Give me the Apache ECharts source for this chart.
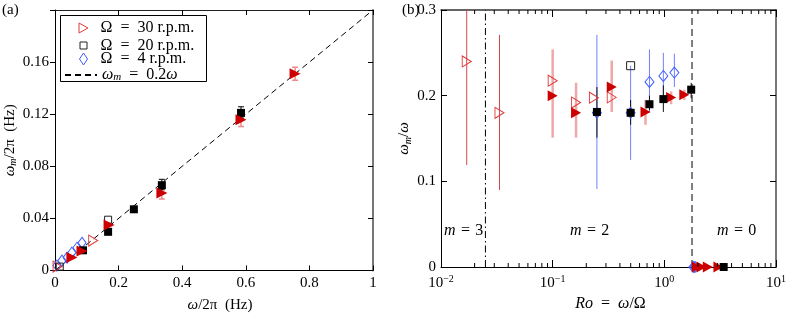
<!DOCTYPE html>
<html>
<head>
<meta charset="utf-8">
<script src="https://cdn.jsdelivr.net/npm/echarts@6/dist/echarts.min.js"></script>
<style>html,body{margin:0;padding:0;background:#fff}#c{width:789px;height:318px}</style>
</head>
<body>
<div id="c"></div>
<script>
// ---------- Panel (a) data : omega/2pi (Hz) vs omega_m/2pi (Hz) ----------
const aXTicks = [0, 0.2, 0.4, 0.6, 0.8, 1];
const aYTicks = [0, 0.04, 0.08, 0.12, 0.16];
const aYMax = 0.2;
const aRed30Open = [[0.008, 0.003], [0.12, 0.023]];
const aRed30Filled = [[0.053, 0.0099], [0.085, 0.015], [0.17, 0.035], [0.336, 0.0595], [0.585, 0.1158], [0.755, 0.151]];
const aRed30Err = [[0.336, 0.0549, 0.0632], [0.585, 0.1105, 0.1196], [0.755, 0.146, 0.156]];
const aBlack20Open = [[0.015, 0.003], [0.167, 0.039]];
const aBlack20Filled = [[0.088, 0.0155], [0.167, 0.0297], [0.248, 0.047], [0.336, 0.0655], [0.585, 0.121]];
const aBlack20Err = [[0.336, 0.062, 0.070], [0.585, 0.117, 0.1257]];
const aBlue4 = [[0.006, 0.0038], [0.022, 0.0076], [0.038, 0.0099], [0.053, 0.0137], [0.069, 0.0175], [0.085, 0.0213]];
const aFitLine = [[0, 0], [1, 0.2]];

// ---------- Panel (b) data : Ro = omega/Omega vs omega_m/omega ----------
const bXRange = [0.01, 10];
const bYTicks = [0, 0.1, 0.2, 0.3];
const bRed30Open = [[0.017, 0.24], [0.0334, 0.18], [0.1, 0.2175], [0.162, 0.192], [0.234, 0.1977], [0.338, 0.198]];
const bRed30OpenErr = [[0.017, 0.119, 0.36], [0.0334, 0.09, 0.271]];
const bRed30Filled = [[0.1, 0.2], [0.162, 0.18], [0.338, 0.21], [0.678, 0.181], [1.15, 0.198], [1.51, 0.201], [1.95, 0], [2.15, 0], [2.45, 0], [3.05, 0]];
const bRed30FilledErr = [[0.1, 0.151, 0.254], [0.162, 0.151, 0.215], [0.338, 0.181, 0.241], [0.678, 0.166, 0.195], [1.15, 0.19, 0.205], [1.51, 0.195, 0.207]];
const bBlack20Open = [[0.499, 0.235]];
const bBlack20Filled = [[0.249, 0.181], [0.499, 0.18], [0.736, 0.19], [0.98, 0.196], [1.74, 0.207], [3.4, 0]];
const bBlack20Err = [[0.249, 0.151, 0.21], [0.499, 0.166, 0.195], [0.736, 0.183, 0.2], [0.98, 0.181, 0.212], [1.74, 0.197, 0.215]];
const bBlue4 = [[0.249, 0.18], [0.499, 0.18], [0.736, 0.216], [0.98, 0.223], [1.23, 0.227], [1.82, 0], [1.88, 0]];
const bBlue4Err = [[0.249, 0.091, 0.271], [0.499, 0.125, 0.235], [0.736, 0.18, 0.254], [0.98, 0.195, 0.25], [1.23, 0.21, 0.249]];
const bRegimeBounds = [0.025, 1.77];
const bMinorTicks = [0.02, 0.03, 0.04, 0.05, 0.06, 0.07, 0.08, 0.09, 0.2, 0.3, 0.4, 0.5, 0.6, 0.7, 0.8, 0.9, 2, 3, 4, 5, 6, 7, 8, 9];
const bRegimeLabels = ['3', '2', '0'];
const legendNames = ['Ω = 30 r.p.m.', 'Ω = 20 r.p.m.', 'Ω = 4 r.p.m.', 'fit'];

// ---------- styling ----------
const FONT = 'Liberation Serif';
const EN = '\u2002', TH = '\u2004';
const RED = '#cc0000', RED_OPEN = '#e23b3b', BLUE = '#3d5cff', BLACK = '#000';
const rich = {
  t: {fontFamily: FONT, fontSize: 15, color: '#000', lineHeight: 18},
  i: {fontFamily: FONT, fontSize: 15, fontStyle: 'italic', color: '#000', lineHeight: 18},
  T: {fontFamily: FONT, fontSize: 16, color: '#000', lineHeight: 18},
  I: {fontFamily: FONT, fontSize: 16, fontStyle: 'italic', color: '#000', lineHeight: 18},
  sub: {fontFamily: FONT, fontSize: 10, fontStyle: 'italic', color: '#000', lineHeight: 10, verticalAlign: 'bottom'},
  b: {fontFamily: FONT, fontSize: 15, color: '#000', lineHeight: 18},
  s: {fontFamily: FONT, fontSize: 10, color: '#000', lineHeight: 10, verticalAlign: 'top'}
};
function makeLegendRich(pad) {
  return {
    t: {fontFamily: FONT, fontSize: 16, color: '#000', lineHeight: 16, padding: [0, 0, 0, pad]},
    t2: {fontFamily: FONT, fontSize: 16, color: '#000', lineHeight: 16},
    i: {fontFamily: FONT, fontSize: 16, fontStyle: 'italic', color: '#000', lineHeight: 16, padding: [0, 0, 0, pad]},
    i2: {fontFamily: FONT, fontSize: 16, fontStyle: 'italic', color: '#000', lineHeight: 16},
    sub: {fontFamily: FONT, fontSize: 11, fontStyle: 'italic', color: '#000', lineHeight: 8, verticalAlign: 'bottom'}
  };
}

function errSeries(data, xi, yi, color, width, cap, z) {
  return {
    type: 'custom', xAxisIndex: xi, yAxisIndex: yi, data: data, z: z || 2, silent: true, clip: true,
    encode: {x: 0, y: [1, 2]},
    renderItem: function (params, api) {
      const x = api.value(0), lo = api.value(1), hi = api.value(2);
      const p1 = api.coord([x, lo]), p2 = api.coord([x, hi]);
      const cs = params.coordSys;
      const st = {stroke: color, lineWidth: width};
      const ch = [{type: 'line', shape: {x1: p1[0], y1: p1[1], x2: p2[0], y2: p2[1]}, style: st}];
      if (cap) {
        ch.push({type: 'line', shape: {x1: p1[0] - cap, y1: p1[1], x2: p1[0] + cap, y2: p1[1]}, style: st});
        ch.push({type: 'line', shape: {x1: p2[0] - cap, y1: p2[1], x2: p2[0] + cap, y2: p2[1]}, style: st});
      }
      return {type: 'group', children: ch,
        clipPath: {type: 'rect', shape: {x: cs.x, y: cs.y, width: cs.width, height: cs.height}}};
    }
  };
}
function scat(name, data, xi, yi, symbol, size, color, filled, rot, z) {
  return {
    type: 'scatter', name: name, xAxisIndex: xi, yAxisIndex: yi, data: data, symbol: symbol,
    symbolSize: size, symbolRotate: rot || 0, z: z || 3, silent: true,
    itemStyle: filled ? {color: color, borderWidth: 0, opacity: 1}
                      : {color: 'rgba(255,255,255,0)', borderColor: color, borderWidth: 1, opacity: 1}
  };
}
// one legend row: icon of width w centred at x = 83, text starting at x = 100
function legendRow(name, centerY, w, h, icon, style) {
  const left = 83 - w / 2;
  const pad = 100 - (left + w + 5);
  return {
    data: [{name: name, icon: icon, itemStyle: style}],
    left: left, top: centerY - h / 2, padding: 0, orient: 'vertical', align: 'left',
    itemWidth: w, itemHeight: h, symbolRotate: 0, symbolKeepAspect: true, selectedMode: false,
    textStyle: {fontFamily: FONT, fontSize: 16, color: '#000', lineHeight: 16, rich: makeLegendRich(pad)},
    formatter: function (n) {
      return n === 'fit' ? '{i|ω}{sub|m}{t2|' + EN + '=' + EN + '0.2}{i2|ω}' : '{t|' + n.replace(' = ', EN + '=' + EN) + '}';
    }
  };
}
const openStyle = function (c) { return {color: 'rgba(255,255,255,0)', borderColor: c, borderWidth: 1, opacity: 1}; };
const tickLab = {fontFamily: FONT, fontSize: 15, color: '#000'};

const option = {
  animation: false,
  backgroundColor: '#fff',
  grid: [
    {left: 55, top: 10, width: 318, height: 265},
    {left: 441, top: 10, width: 337, height: 257}
  ],
  xAxis: [
    {gridIndex: 0, type: 'value', min: aXTicks[0], max: aXTicks[aXTicks.length - 1], interval: aXTicks[1] - aXTicks[0],
     position: 'bottom', splitLine: {show: false},
     axisLine: {onZero: false, lineStyle: {color: '#000', width: 1}},
     axisTick: {inside: true, length: 5, lineStyle: {color: '#000'}},
     axisLabel: Object.assign({margin: 5}, tickLab),
     name: '{i|ω}{t|/2π' + EN + '(Hz)}', nameLocation: 'middle', nameGap: 26, nameTextStyle: {rich: rich, padding: [0, 0, 0, 12]}},
    {gridIndex: 0, type: 'value', min: aXTicks[0], max: aXTicks[aXTicks.length - 1], interval: aXTicks[1] - aXTicks[0],
     position: 'top', splitLine: {show: false},
     axisLine: {onZero: false, lineStyle: {color: '#222', width: 1}},
     axisTick: {inside: true, length: 5, lineStyle: {color: '#000'}},
     axisLabel: {show: false}},
    {gridIndex: 1, type: 'log', logBase: 10, min: bXRange[0], max: bXRange[1],
     position: 'bottom', splitLine: {show: false}, minorTick: {show: false},
     axisLine: {onZero: false, lineStyle: {color: '#000', width: 1}},
     axisTick: {inside: true, length: 7, lineStyle: {color: '#000'}},
     axisLabel: {margin: 7, formatter: function (v) {
       const e = Math.round(Math.log10(v));
       return '{b|10}{s|' + (e < 0 ? '−' + (-e) : e) + '}';
     }, rich: rich},
     name: '{I|Ro}{T|' + EN + '=' + EN + '}{I|ω}{T|/Ω}', nameLocation: 'middle', nameGap: 28, nameTextStyle: {rich: rich, padding: [0, 0, 0, 4]}},
    {gridIndex: 1, type: 'log', logBase: 10, min: bXRange[0], max: bXRange[1],
     position: 'top', splitLine: {show: false},
     axisLine: {onZero: false, lineStyle: {color: '#333', width: 1.5}},
     axisTick: {inside: true, length: 7, lineStyle: {color: '#000'}},
     axisLabel: {show: false}}
  ],
  yAxis: [
    {gridIndex: 0, type: 'value', min: aYTicks[0], max: aYMax, interval: aYTicks[1] - aYTicks[0],
     position: 'left', splitLine: {show: false},
     axisLine: {onZero: false, lineStyle: {color: '#000', width: 1}},
     axisTick: {inside: false, length: 5, lineStyle: {color: '#000'}},
     axisLabel: Object.assign({margin: 6, formatter: function (v) {
       return v > aYTicks[aYTicks.length - 1] + 1e-9 ? '' : String(+v.toFixed(2));
     }}, tickLab),
     name: '{i|ω}{sub|m}{t|/2π' + EN + '(Hz)}', nameLocation: 'middle', nameGap: 28, nameRotate: 90, nameTextStyle: {rich: rich}},
    {gridIndex: 0, type: 'value', min: aYTicks[0], max: aYMax, interval: aYTicks[1] - aYTicks[0],
     position: 'right', splitLine: {show: false},
     axisLine: {onZero: false, lineStyle: {color: '#777', width: 2}},
     axisTick: {inside: true, length: 5, lineStyle: {color: '#000'}},
     axisLabel: {show: false}},
    {gridIndex: 1, type: 'value', min: bYTicks[0], max: bYTicks[bYTicks.length - 1], interval: bYTicks[1] - bYTicks[0],
     position: 'left', splitLine: {show: false},
     axisLine: {onZero: false, lineStyle: {color: '#000', width: 1}},
     axisTick: {inside: true, length: 6, lineStyle: {color: '#000'}},
     axisLabel: Object.assign({margin: 5, formatter: function (v) { return String(+v.toFixed(1)); }}, tickLab),
     name: '{i|ω}{sub|m}{t|/}{i|ω}', nameLocation: 'middle', nameGap: 19, nameRotate: 90, nameTextStyle: {rich: rich}},
    {gridIndex: 1, type: 'value', min: bYTicks[0], max: bYTicks[bYTicks.length - 1], interval: bYTicks[1] - bYTicks[0],
     position: 'right', splitLine: {show: false},
     axisLine: {onZero: false, lineStyle: {color: '#777', width: 2}},
     axisTick: {inside: true, length: 6, lineStyle: {color: '#000'}},
     axisLabel: {show: false}}
  ],
  legend: [
    legendRow(legendNames[0], 25, 9, 10, 'path://M0,0L9,5L0,10Z', openStyle(RED_OPEN)),
    legendRow(legendNames[1], 41, 7, 7, 'path://M0,0H10V10H0Z', openStyle('#222')),
    legendRow(legendNames[2], 57, 8, 12, 'path://M4,0L8,6L4,12L0,6Z', openStyle(BLUE)),
    Object.assign(legendRow(legendNames[3], 73, 32, 12, undefined, {opacity: 0}),
      {left: 64, data: [{name: legendNames[3], itemStyle: {opacity: 0}}],
       textStyle: {fontFamily: FONT, fontSize: 16, color: '#000', lineHeight: 16, rich: makeLegendRich(0)}})
  ],
  graphic: [
    {type: 'rect', left: 60, top: 15, z: 50, shape: {width: 146, height: 66},
     style: {fill: 'rgba(255,255,255,0)', stroke: '#000', lineWidth: 1}},
    {type: 'text', left: 2, top: 3, style: {text: '(a)', font: '15px "' + FONT + '"', fill: '#000'}},
    {type: 'text', left: 402, top: 3, style: {text: '(b)', font: '15px "' + FONT + '"', fill: '#000'}},
    {type: 'text', left: 444, top: 223, style: {rich: rich, text: '{I|m}{T|' + TH + '=' + TH + bRegimeLabels[0] + '}'}},
    {type: 'text', left: 570, top: 223, style: {rich: rich, text: '{I|m}{T|' + TH + '=' + TH + bRegimeLabels[1] + '}'}},
    {type: 'text', left: 717, top: 223, style: {rich: rich, text: '{I|m}{T|' + TH + '=' + TH + bRegimeLabels[2] + '}'}}
  ],
  series: [
    // panel (a)
    {type: 'line', name: 'fit', xAxisIndex: 0, yAxisIndex: 0, data: aFitLine, symbol: 'none', silent: true, z: 1,
     itemStyle: {color: '#000'}, lineStyle: {color: '#000', width: 1, type: [6, 4]}},
    errSeries(aRed30Err, 0, 0, '#f08a8a', 1.5, 3),
    errSeries(aBlack20Err, 0, 0, '#000', 1, 3),
    scat('Ω = 4 r.p.m.', aBlue4, 0, 0, 'diamond', [8, 11], BLUE, false),
    scat('Ω = 30 r.p.m.', aRed30Open, 0, 0, 'triangle', [11, 9], RED_OPEN, false, -90),
    scat('Ω = 20 r.p.m.', aBlack20Open, 0, 0, 'rect', 7, '#222', false),
    scat('b20a', aBlack20Filled, 0, 0, 'rect', 8, BLACK, true),
    scat('r30a', aRed30Filled, 0, 0, 'triangle', [11, 11], RED, true, -90, 4),
    // panel (b)
    {type: 'line', name: 'ra', xAxisIndex: 2, yAxisIndex: 2, data: [[bRegimeBounds[0], bYTicks[0]], [bRegimeBounds[0], bYTicks[3]]],
     symbol: 'none', silent: true, z: 1, lineStyle: {color: '#000', width: 1, type: [7, 3, 1.5, 3]}},
    {type: 'line', name: 'rb', xAxisIndex: 2, yAxisIndex: 2, data: [[bRegimeBounds[1], bYTicks[0]], [bRegimeBounds[1], bYTicks[3]]],
     symbol: 'none', silent: true, z: 1, lineStyle: {color: '#000', width: 1, type: [7, 4]}},
    {type: 'custom', xAxisIndex: 2, yAxisIndex: 2, silent: true, z: 5, data: bMinorTicks.map(function (v) { return [v, 0]; }),
     encode: {x: 0, y: 1},
     renderItem: function (params, api) {
       const v = api.value(0);
       const p = api.coord([v, bYTicks[0]]), q = api.coord([v, bYTicks[3]]);
       const st = {stroke: '#000', lineWidth: 1};
       return {type: 'group', children: [
         {type: 'line', shape: {x1: p[0], y1: p[1], x2: p[0], y2: p[1] - 4}, style: st},
         {type: 'line', shape: {x1: q[0], y1: q[1], x2: q[0], y2: q[1] + 4}, style: st}
       ]};
     }},
    errSeries(bBlue4Err, 2, 2, '#6f80ff', 1),
    errSeries(bRed30OpenErr, 2, 2, '#d04848', 1),
    errSeries(bRed30FilledErr, 2, 2, 'rgba(228,110,110,0.6)', 2.5),
    errSeries(bBlack20Err, 2, 2, '#111', 1),
    scat('Ω = 4 r.p.m.', bBlue4, 2, 2, 'diamond', [9, 11], BLUE, false),
    scat('Ω = 30 r.p.m.', bRed30Open, 2, 2, 'triangle', [11, 9], RED_OPEN, false, -90),
    scat('r30b', bRed30Filled, 2, 2, 'triangle', [11, 10], RED, true, -90),
    scat('Ω = 20 r.p.m.', bBlack20Open, 2, 2, 'rect', 8, '#222', false),
    scat('b20b', bBlack20Filled, 2, 2, 'rect', 8, BLACK, true, 0, 4)
  ]
};
const chart = echarts.init(document.getElementById('c'), null, {renderer: 'canvas'});
chart.setOption(option);
</script>
</body>
</html>
